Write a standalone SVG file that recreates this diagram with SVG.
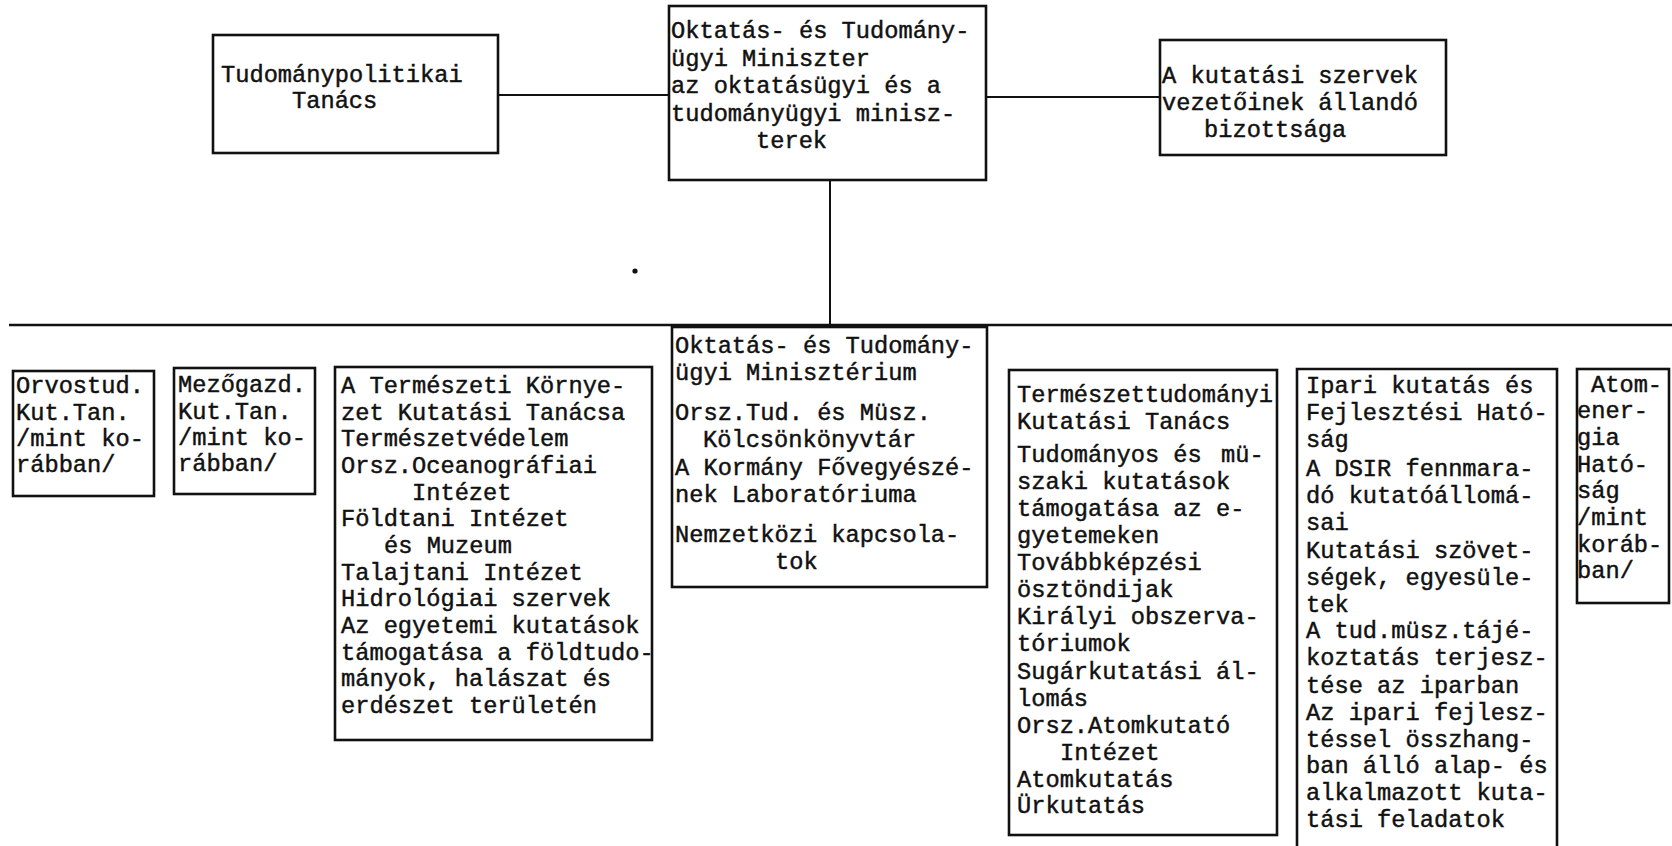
<svg xmlns="http://www.w3.org/2000/svg" width="1672" height="846" viewBox="0 0 1672 846">
  <style>
    .bg { fill: #ffffff; }
    .box { fill: none; stroke: #111; stroke-width: 2.6; }
    .ln { fill: none; stroke: #111; stroke-width: 2; }
    .t { font-family: "Liberation Mono", "Courier New", monospace; font-size: 23.7px; fill: #111; stroke: #111; stroke-width: 0.45; }
  </style>
  <rect class="bg" x="0" y="0" width="1672" height="846"/>

  <!-- connectors -->
  <g id="connectors">
    <line class="ln" x1="498" y1="95" x2="669" y2="95"/>
    <line class="ln" x1="986" y1="97" x2="1160" y2="97"/>
    <line class="ln" x1="830" y1="180" x2="830" y2="325"/>
    <line class="ln" x1="9" y1="325" x2="1672" y2="325" style="stroke-width:2.4"/>
    <circle cx="635" cy="271" r="2.6" fill="#111"/>
  </g>

  <!-- upper tier -->
  <g id="tudomanypolitikai-tanacs">
    <rect class="box" x="213" y="35" width="285" height="118"/>
    <text class="t" x="221" y="82">Tudománypolitikai</text>
    <text class="t" x="292" y="108">Tanács</text>
  </g>

  <g id="miniszter">
    <rect class="box" x="669" y="6" width="317" height="174"/>
    <text class="t" x="671" y="38">Oktatás- és Tudomány-</text>
    <text class="t" x="671" y="66">ügyi Miniszter</text>
    <text class="t" x="671" y="93">az oktatásügyi és a</text>
    <text class="t" x="671" y="121">tudományügyi minisz-</text>
    <text class="t" x="756" y="148">terek</text>
  </g>

  <g id="allando-bizottsag">
    <rect class="box" x="1160" y="40" width="286" height="115"/>
    <text class="t" x="1162" y="83">A kutatási szervek</text>
    <text class="t" x="1162" y="110">vezetőinek állandó</text>
    <text class="t" x="1204" y="137">bizottsága</text>
  </g>

  <!-- lower tier -->
  <g id="orvostud">
    <rect class="box" x="13" y="371" width="141" height="125"/>
    <text class="t" x="16" y="393">Orvostud.</text>
    <text class="t" x="16" y="420">Kut.Tan.</text>
    <text class="t" x="16" y="446">/mint ko-</text>
    <text class="t" x="16" y="472">rábban/</text>
  </g>

  <g id="mezogazd">
    <rect class="box" x="174" y="368" width="141" height="126"/>
    <text class="t" x="178" y="392">Mezőgazd.</text>
    <text class="t" x="178" y="419">Kut.Tan.</text>
    <text class="t" x="178" y="445">/mint ko-</text>
    <text class="t" x="178" y="471">rábban/</text>
  </g>

  <g id="termeszeti-kornyezet">
    <rect class="box" x="335" y="367" width="317" height="373"/>
    <text class="t" x="341" y="393">A Természeti Környe-</text>
    <text class="t" x="341" y="420">zet Kutatási Tanácsa</text>
    <text class="t" x="341" y="446">Természetvédelem</text>
    <text class="t" x="341" y="473">Orsz.Oceanográfiai</text>
    <text class="t" x="412" y="500">Intézet</text>
    <text class="t" x="341" y="526">Földtani Intézet</text>
    <text class="t" x="384" y="553">és Muzeum</text>
    <text class="t" x="341" y="580">Talajtani Intézet</text>
    <text class="t" x="341" y="606">Hidrológiai szervek</text>
    <text class="t" x="341" y="633">Az egyetemi kutatások</text>
    <text class="t" x="341" y="660">támogatása a földtudo-</text>
    <text class="t" x="341" y="686">mányok, halászat és</text>
    <text class="t" x="341" y="713">erdészet területén</text>
  </g>

  <g id="miniszterium">
    <rect class="box" x="672" y="327" width="315" height="260"/>
    <text class="t" x="675" y="353">Oktatás- és Tudomány-</text>
    <text class="t" x="675" y="380">ügyi Minisztérium</text>
    <text class="t" x="675" y="420">Orsz.Tud. és Müsz.</text>
    <text class="t" x="703" y="447">Kölcsönkönyvtár</text>
    <text class="t" x="675" y="475">A Kormány Fővegyészé-</text>
    <text class="t" x="675" y="502">nek Laboratóriuma</text>
    <text class="t" x="675" y="542">Nemzetközi kapcsola-</text>
    <text class="t" x="775" y="569">tok</text>
  </g>

  <g id="termeszettudomanyi">
    <rect class="box" x="1009" y="370" width="268" height="465"/>
    <text class="t" x="1017" y="402">Természettudományi</text>
    <text class="t" x="1017" y="429">Kutatási Tanács</text>
    <text class="t" x="1017" y="462">Tudományos és <tspan dx="5">mü-</tspan></text>
    <text class="t" x="1017" y="489">szaki kutatások</text>
    <text class="t" x="1017" y="516">támogatása az e-</text>
    <text class="t" x="1017" y="543">gyetemeken</text>
    <text class="t" x="1017" y="570">Továbbképzési</text>
    <text class="t" x="1017" y="597">ösztöndijak</text>
    <text class="t" x="1017" y="624">Királyi obszerva-</text>
    <text class="t" x="1017" y="651">tóriumok</text>
    <text class="t" x="1017" y="679">Sugárkutatási ál-</text>
    <text class="t" x="1017" y="706">lomás</text>
    <text class="t" x="1017" y="733">Orsz.Atomkutató</text>
    <text class="t" x="1060" y="760">Intézet</text>
    <text class="t" x="1017" y="787">Atomkutatás</text>
    <text class="t" x="1017" y="813">Ürkutatás</text>
  </g>

  <g id="ipari-kutatas">
    <path class="box" d="M1297,850 V369 H1557 V850"/>
    <text class="t" x="1306" y="393">Ipari kutatás és</text>
    <text class="t" x="1306" y="420">Fejlesztési Ható-</text>
    <text class="t" x="1306" y="447">ság</text>
    <text class="t" x="1306" y="476">A DSIR fennmara-</text>
    <text class="t" x="1306" y="503">dó kutatóállomá-</text>
    <text class="t" x="1306" y="530">sai</text>
    <text class="t" x="1306" y="558">Kutatási szövet-</text>
    <text class="t" x="1306" y="585">ségek, egyesüle-</text>
    <text class="t" x="1306" y="612">tek</text>
    <text class="t" x="1306" y="638">A tud.müsz.tájé-</text>
    <text class="t" x="1306" y="665">koztatás terjesz-</text>
    <text class="t" x="1306" y="693">tése az iparban</text>
    <text class="t" x="1306" y="720">Az ipari fejlesz-</text>
    <text class="t" x="1306" y="747">téssel összhang-</text>
    <text class="t" x="1306" y="773">ban álló alap- és</text>
    <text class="t" x="1306" y="800">alkalmazott kuta-</text>
    <text class="t" x="1306" y="827">tási feladatok</text>
  </g>

  <g id="atomenergia">
    <rect class="box" x="1577" y="369" width="92" height="234"/>
    <text class="t" x="1591" y="392">Atom-</text>
    <text class="t" x="1577" y="418">ener-</text>
    <text class="t" x="1577" y="445">gia</text>
    <text class="t" x="1577" y="472">Ható-</text>
    <text class="t" x="1577" y="498">ság</text>
    <text class="t" x="1577" y="525">/mint</text>
    <text class="t" x="1577" y="552">koráb-</text>
    <text class="t" x="1577" y="578">ban/</text>
  </g>
</svg>
